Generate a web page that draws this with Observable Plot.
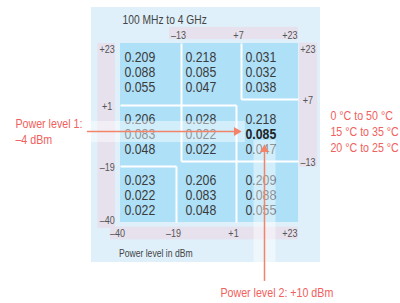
<!DOCTYPE html>
<html><head><meta charset="utf-8">
<script src="https://cdn.jsdelivr.net/npm/d3@7"></script>
<script src="https://cdn.jsdelivr.net/npm/@observablehq/plot@0.6"></script>
<style>html,body{margin:0;padding:0;background:#fff;} svg{display:block}</style>
</head><body><div id="chart"></div>
<script>
// ---- data ----
const title = "100 MHz to 4 GHz";
const axisTitle = "Power level in dBm";
const temps = ["0 °C to 50 °C", "15 °C to 35 °C", "20 °C to 25 °C"];
// uncertainty values per cell (cells read row by row, top-left first)
const tol0to50  = [0.209, 0.218, 0.031, 0.206, 0.028, 0.218, 0.023, 0.206, 0.209];
const tol15to35 = [0.088, 0.085, 0.032, 0.083, 0.022, 0.085, 0.022, 0.083, 0.088];
const tol20to25 = [0.055, 0.047, 0.038, 0.048, 0.022, 0.047, 0.022, 0.048, 0.055];
// cell ranges in dBm: power level 2 (horizontal) and power level 1 (vertical)
const cellP2Lo = [-40, -13,  7, -40, -13,   1, -40, -19,   1];
const cellP2Hi = [-13,   7, 23, -13,   1,  23, -19,   1,  23];
const cellP1Lo = [  1,   1,  7, -19, -13, -13, -40, -40, -40];
const cellP1Hi = [ 23,  23, 23,   1,   1,   7, -19, -13, -13];
// tick labels
const leftTicks = [23, 1, -19, -40];
const rightTicks = [23, 7, -13];
const topTicks = [-13, 7, 23];
const bottomTicks = [-40, -19, 1, 23];
// region borders (dBm)
const borderP2a = [-13,  7,   1, -19, -40,  7, -13, -40];
const borderP1a = [ 23, 23,   1, -19,   1,  7, -13, -19];
const borderP2b = [-13,  7,   1, -19,   1, 23,  23, -19];
const borderP1b = [-13,  7, -40, -40,   1,  7, -13, -19];
// highlighted example
const powerLevel1 = -4;
const powerLevel2 = 10;
const highlightTemp = 1;

// ---- helpers ----
const FONT = "'Liberation Sans',Arial,sans-serif";
const CONDENSE = 0.82; // condensed type
const fmt = d => d > 0 ? `+${d}` : d < 0 ? `\u2013${-d}` : "0";
const series = [tol0to50, tol15to35, tol20to25];
const hiCell = cellP2Lo.findIndex((_, i) => powerLevel2 >= cellP2Lo[i] && powerLevel2 <= cellP2Hi[i] && powerLevel1 >= cellP1Lo[i] && powerLevel1 <= cellP1Hi[i]);
const cells = cellP2Lo.map((_, i) => ({i, row: Math.floor(i / 3), col: i % 3, x1: cellP2Lo[i], x2: cellP2Hi[i], y1: cellP1Lo[i], y2: cellP1Hi[i]}));
const lines = [];
cells.forEach(c => series.forEach((s, k) => lines.push({...c, k, text: s[c.i].toFixed(3), bold: c.i === hiCell && k === highlightTemp})));
const borders = borderP2a.map((_, i) => ({x1: borderP2a[i], y1: borderP1a[i], x2: borderP2b[i], y2: borderP1b[i]}));

// schematic (piecewise) dBm axes
const xWarp = d3.scaleLinear().domain([-40, -19, -13, 1, 7, 10, 23]).range([120, 176, 181, 236, 241, 264, 298]);
const yWarp = d3.scaleLinear().domain([23, 7, 1, -4, -13, -19, -40]).range([43, 99, 105, 131, 161, 166, 222]);

const box = (x1, x2, y1, y2, o) => Plot.rect([0], {x1: () => x1, x2: () => x2, y1: () => y1, y2: () => y2, ...o});
const label = (x, y, text, o) => Plot.text([0], {x: () => x, y: () => y, text: () => text, ...o});

const PANEL = "#dff0fa", BAND = "#e6e1ed", CELL = "#aee0f8", INK = "#3b3b3b", AX = "#555", RED = "#f0605c", ARROW = "#f3846a";
const colX = d => cellP2Lo[d.col];
const rowY = d => cellP1Hi[d.row * 3];

const textMarks = [];
for (let k = 0; k < 3; k++) {
  textMarks.push(Plot.text(lines.filter(d => d.k === k && !d.bold), {x: colX, y: rowY, text: "text", dx: 4, dy: 18 + 15 * k, lineAnchor: "bottom", textAnchor: "start", fontSize: 15, fill: INK}));
  textMarks.push(Plot.text(lines.filter(d => d.k === k && d.bold), {x: colX, y: rowY, text: "text", dx: 4, dy: 18 + 15 * k, lineAnchor: "bottom", textAnchor: "start", fontSize: 15, fontWeight: "bold", fill: "#222"}));
}

const chart = Plot.plot({
  width: 400, height: 303, margin: 0,
  x: {type: "linear", transform: xWarp, domain: [0, 400], range: [0, 400], axis: null},
  y: {type: "linear", transform: yWarp, domain: [0, 303], range: [0, 303], axis: null},
  style: {fontFamily: FONT, background: "#fff", overflow: "visible"},
  marks: [
    box(-50.9, 31.4, 33.3, -55, {fill: PANEL}),
    box(-21.6, 23, 27.6, 24.1, {fill: BAND}),
    box(-48.5, -41.9, 23, -42.25, {fill: BAND}),
    box(-43.75, 23, -41.76, -46.5, {fill: BAND}),
    box(23.4, 30.3, 23.1, -19.26, {fill: BAND}),
    Plot.rect(cells, {x1: "x1", x2: "x2", y1: "y1", y2: "y2", fill: CELL}),
    Plot.link(borders, {x1: "x1", y1: "y1", x2: "x2", y2: "y2", stroke: "#fff", strokeWidth: 2}),
    ...textMarks,
    // highlight bands
    Plot.ruleY([powerLevel1], {x1: () => -50.9, x2: () => 7.5, stroke: "#fff", strokeWidth: 21, strokeOpacity: 0.45}),
    Plot.ruleX([powerLevel2], {y1: () => -6.7, y2: () => -55, stroke: "#fff", strokeWidth: 22, strokeOpacity: 0.45}),
    // arrows
    Plot.ruleY([powerLevel1], {x1: () => -52.4, x2: () => 6, stroke: ARROW, strokeWidth: 1.5}),
    Plot.dot([powerLevel1], {x: () => 7, y: d => d, symbol: "triangle", r: 3.3, fill: ARROW, rotate: 90, dx: -5}),
    Plot.ruleX([powerLevel2], {y1: () => -62.1, y2: () => -9, stroke: ARROW, strokeWidth: 1.5}),
    Plot.dot([powerLevel2], {x: d => d, y: () => -7.9, symbol: "triangle", r: 3.3, fill: ARROW, dy: 5}),
    // axis tick labels
    Plot.text(topTicks.filter(d => d !== 23), {x: d => d, y: () => 24.4, text: fmt, dx: -3, lineAnchor: "bottom", textAnchor: "middle", fontSize: 11, fill: AX}),
    Plot.text(topTicks.filter(d => d === 23), {x: d => d, y: () => 24.4, text: fmt, dx: -1, lineAnchor: "bottom", textAnchor: "end", fontSize: 11, fill: AX}),
    Plot.text(bottomTicks.filter(d => d !== 23), {x: d => d, y: () => -45.25, text: fmt, dx: -3, lineAnchor: "bottom", textAnchor: "middle", fontSize: 11, fill: AX}),
    Plot.text(bottomTicks.filter(d => d === 23), {x: d => d, y: () => -45.25, text: fmt, dx: -1, lineAnchor: "bottom", textAnchor: "end", fontSize: 11, fill: AX}),
    Plot.text(leftTicks.filter(d => d === 23), {x: () => -45, y: d => d, text: fmt, dy: 2, lineAnchor: "top", fontSize: 11, fill: AX}),
    Plot.text(leftTicks.filter(d => d !== 23 && d !== -40), {x: () => -45, y: d => d, text: fmt, dy: 1, lineAnchor: "middle", fontSize: 11, fill: AX}),
    Plot.text(leftTicks.filter(d => d === -40), {x: () => -45, y: d => d, text: fmt, dy: 1, lineAnchor: "bottom", fontSize: 11, fill: AX}),
    Plot.text(rightTicks.filter(d => d === 23), {x: () => 26.6, y: d => d, text: fmt, dy: 2, lineAnchor: "top", fontSize: 11, fill: AX}),
    Plot.text(rightTicks.filter(d => d !== 23), {x: () => 26.6, y: d => d, text: fmt, dy: 1, lineAnchor: "middle", fontSize: 11, fill: AX}),
    // titles
    label(-39.25, 28.6, title, {lineAnchor: "bottom", textAnchor: "start", fontSize: 12.5, fill: "#444"}),
    label(-40.6, -52.75, axisTitle, {lineAnchor: "bottom", textAnchor: "start", fontSize: 10.5, fill: "#444"}),
    // annotations
    label(-79.4, -7.6, `Power level 1:\n${fmt(powerLevel1)} dBm`, {lineAnchor: "bottom", textAnchor: "start", lineHeight: 1.2, fontSize: 13, fill: RED}),
    label(35.2, -10.2, temps.join("\n"), {lineAnchor: "bottom", textAnchor: "start", lineHeight: 1.25, fontSize: 13, fill: RED}),
    label(-3.1, -68.1, `Power level 2: ${fmt(powerLevel2)} dBm`, {lineAnchor: "bottom", textAnchor: "start", fontSize: 13, fill: RED})
  ]
});
document.getElementById("chart").appendChild(chart);
// condensed letterforms: squeeze each text run horizontally
chart.querySelectorAll("text").forEach(t => {
  const runs = t.querySelectorAll("tspan");
  (runs.length ? Array.from(runs) : [t]).forEach(el => {
    const len = el.getComputedTextLength();
    if (len > 0) { el.setAttribute("textLength", (len * CONDENSE).toFixed(2)); el.setAttribute("lengthAdjust", "spacingAndGlyphs"); }
  });
});
</script>
</body></html>
